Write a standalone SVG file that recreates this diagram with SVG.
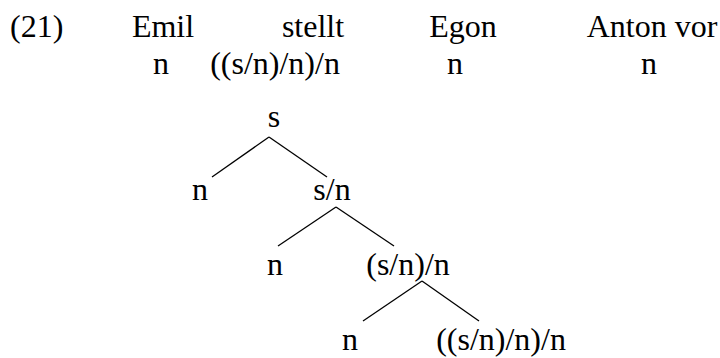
<svg xmlns="http://www.w3.org/2000/svg" width="720" height="358" viewBox="0 0 720 358">
<style>
text{font-family:"Liberation Serif","Times New Roman",serif;font-size:32px;fill:#000}
.c{text-anchor:middle}
line{stroke:#000;stroke-width:1.3}
</style>
<rect width="720" height="358" fill="#fff"/>
<g id="header">
<text x="10" y="37">(21)</text>
<text class="c" x="163" y="37">Emil</text>
<text class="c" x="313" y="37">stellt</text>
<text class="c" x="463" y="37">Egon</text>
<text class="c" x="652" y="37">Anton vor</text>
<text class="c" x="161" y="74">n</text>
<text class="c" x="275" y="74">((s/n)/n)/n</text>
<text class="c" x="455" y="74">n</text>
<text class="c" x="649" y="74">n</text>
</g>
<g id="node-s"><text class="c" x="274" y="127">s</text></g>
<g id="node-n1"><text class="c" x="200" y="200">n</text></g>
<g id="node-sn"><text class="c" x="332" y="200">s/n</text></g>
<g id="node-n2"><text class="c" x="275" y="275">n</text></g>
<g id="node-snn"><text class="c" x="408" y="275">(s/n)/n</text></g>
<g id="node-n3"><text class="c" x="350" y="350">n</text></g>
<g id="node-snnn"><text class="c" x="501" y="350">((s/n)/n)/n</text></g>
<g id="connectors">
<line x1="269" y1="137" x2="212" y2="177"/>
<line x1="269" y1="137" x2="327" y2="177"/>
<line x1="336" y1="207" x2="278" y2="246"/>
<line x1="336" y1="207" x2="394" y2="246"/>
<line x1="422" y1="281" x2="363" y2="321"/>
<line x1="422" y1="281" x2="479" y2="321"/>
</g>
</svg>
